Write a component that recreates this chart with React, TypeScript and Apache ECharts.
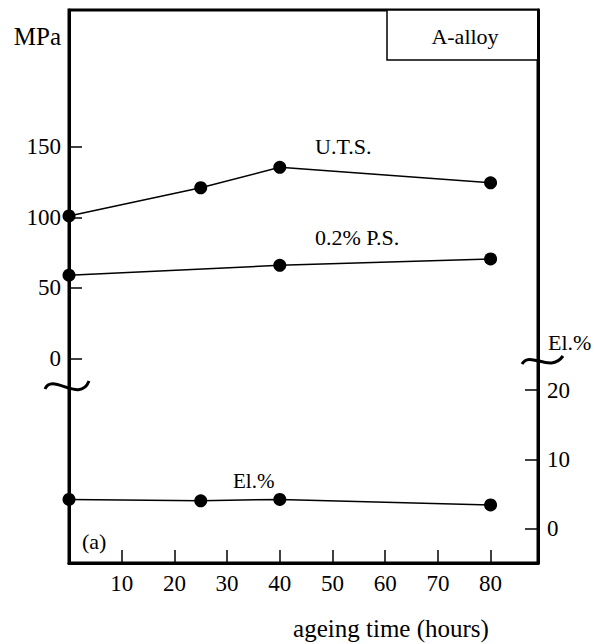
import React, { useEffect, useRef } from "react";
import * as echarts from "echarts";

const hours = [0, 25, 40, 80];
const utsValues = [101, 121, 135.5, 124.5];
const psHours = [0, 40, 80];
const psValues = [59, 66, 70.5];
const elHours = [0, 25, 40, 80];
const elValues = [4.2, 4.0, 4.2, 3.4];
const xTicks = [10, 20, 30, 40, 50, 60, 70, 80];
const mpaTicks = [0, 50, 100, 150];
const elTicks = [0, 10, 20];

const FONT = "Liberation Serif";

export default function App() {
  const ref = useRef<HTMLDivElement>(null);
  useEffect(() => {
    if (!ref.current) return;
    const chart = echarts.init(ref.current, undefined, { renderer: "svg" });
    const lineStyle = { color: "#000", width: 1.5 };
    const itemStyle = { color: "#000" };
    const textBase = { fill: "#000", fontFamily: FONT };
    chart.setOption({
      animation: false,
      backgroundColor: "#fff",
      textStyle: { fontFamily: FONT, color: "#000" },
      grid: {
        left: 69,
        right: 56,
        top: 10,
        bottom: 81,
        show: true,
        borderColor: "#000",
        borderWidth: 3,
        backgroundColor: "transparent",
      },
      xAxis: {
        type: "value",
        min: 0,
        max: 89,
        axisLine: { show: true, onZero: false, lineStyle: { color: "#000", width: 3 } },
        axisTick: { show: true, inside: true, length: 13, customValues: xTicks, lineStyle: { color: "#000", width: 1.5 } },
        axisLabel: { customValues: xTicks, color: "#000", fontSize: 23, fontFamily: FONT, margin: 9 },
        splitLine: { show: false },
      },
      yAxis: [
        {
          type: "value",
          position: "left",
          min: -145,
          max: 247,
          axisLine: { show: true, onZero: false, lineStyle: { color: "#000", width: 3 } },
          axisTick: { show: true, inside: true, length: 13, customValues: mpaTicks, lineStyle: { color: "#000", width: 1.5 } },
          axisLabel: { customValues: mpaTicks, color: "#000", fontSize: 23, fontFamily: FONT, margin: 8, padding: [0, 0, 8, 0] },
          splitLine: { show: false },
        },
        {
          type: "value",
          position: "right",
          min: -5,
          max: 75,
          axisLine: { show: true, onZero: false, lineStyle: { color: "#000", width: 3 } },
          axisTick: { show: true, inside: true, length: 13, customValues: elTicks, lineStyle: { color: "#000", width: 1.5 } },
          axisLabel: { customValues: elTicks, color: "#000", fontSize: 23, fontFamily: FONT, margin: 9, padding: [0, 0, 10, 0] },
          splitLine: { show: false },
        },
      ],
      series: [
        {
          type: "line",
          name: "U.T.S.",
          data: hours.map((h, i) => [h, utsValues[i]]),
          yAxisIndex: 0,
          symbol: "circle",
          symbolSize: 13,
          lineStyle,
          itemStyle,
          clip: false,
        },
        {
          type: "line",
          name: "0.2% P.S.",
          data: psHours.map((h, i) => [h, psValues[i]]),
          yAxisIndex: 0,
          symbol: "circle",
          symbolSize: 13,
          lineStyle,
          itemStyle,
          clip: false,
        },
        {
          type: "line",
          name: "El.%",
          data: elHours.map((h, i) => [h, elValues[i]]),
          yAxisIndex: 1,
          symbol: "circle",
          symbolSize: 13,
          lineStyle,
          itemStyle,
          clip: false,
        },
      ],
      graphic: [
        { type: "text", x: 61, y: 36, style: { ...textBase, text: "MPa", fontSize: 25, align: "right", verticalAlign: "middle" } },
        { type: "rect", shape: { x: 387, y: 10, width: 151, height: 50 }, style: { fill: "#fff", stroke: "#000", lineWidth: 1.5 } },
        { type: "text", x: 465, y: 36, style: { ...textBase, text: "A-alloy", fontSize: 22, align: "center", verticalAlign: "middle" } },
        { type: "text", x: 315, y: 146, style: { ...textBase, text: "U.T.S.", fontSize: 22, verticalAlign: "middle" } },
        { type: "text", x: 315, y: 237, style: { ...textBase, text: "0.2% P.S.", fontSize: 22, verticalAlign: "middle" } },
        { type: "text", x: 233, y: 481, style: { ...textBase, text: "El.%", fontSize: 21, verticalAlign: "middle" } },
        { type: "text", x: 548, y: 342, style: { ...textBase, text: "El.%", fontSize: 22, verticalAlign: "middle" } },
        { type: "text", x: 82, y: 541, style: { ...textBase, text: "(a)", fontSize: 22, verticalAlign: "middle" } },
        { type: "text", x: 391, y: 628, style: { ...textBase, text: "ageing time (hours)", fontSize: 25, align: "center", verticalAlign: "middle" } },
        {
          type: "bezierCurve",
          shape: { x1: 45, y1: 389, cpx1: 52, cpy1: 372, cpx2: 80, cpy2: 404, x2: 89, y2: 381 },
          style: { stroke: "#000", lineWidth: 3, fill: "none" },
        },
        {
          type: "bezierCurve",
          shape: { x1: 522, y1: 364, cpx1: 530, cpy1: 350, cpx2: 550, cpy2: 374, x2: 563, y2: 356 },
          style: { stroke: "#000", lineWidth: 3, fill: "none" },
        },
      ],
    });
    return () => chart.dispose();
  }, []);
  return <div ref={ref} style={{ position: "fixed", left: 0, top: 0, width: 594, height: 644, background: "#fff" }} />;
}
